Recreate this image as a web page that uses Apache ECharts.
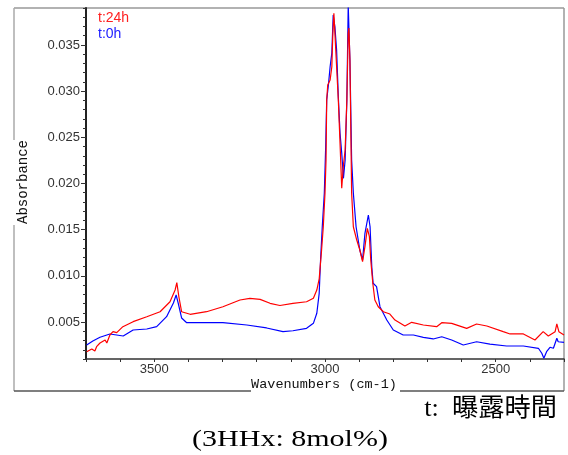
<!DOCTYPE html>
<html>
<head>
<meta charset="utf-8">
<script src="https://cdn.jsdelivr.net/npm/echarts@6/dist/echarts.min.js"></script>
<style>
html,body{margin:0;padding:0;background:#fff;}
#chart{width:568px;height:455px;}
</style>
</head>
<body>
<div id="chart"></div>
<script>
// ---- data ----
const seriesNames = ['t:24h', 't:0h'];

const redWave = [3698,3693,3683,3674,3669,3659,3644,3639,3630,3621,3610,3592,3562,3522,3483,3454,3439,3434,3428,3420,3395,3347,3299,3249,3220,3190,3161,3132,3094,3054,3034,3024,3017,3010,3005,3000,2997,2995,2992,2985,2980,2977,2974,2971,2966,2961,2956,2951,2946,2941,2936,2932,2930,2927,2922,2917,2907,2898,2890,2883,2876,2870,2866,2860,2854,2844,2829,2810,2795,2766,2746,2712,2673,2658,2629,2585,2556,2526,2478,2458,2419,2385,2361,2346,2326,2321,2315,2300];
const redAbs  = [0.00179,0.00179,0.00208,0.00187,0.00233,0.00273,0.00306,0.00273,0.0036,0.00396,0.00385,0.0045,0.00504,0.00558,0.00612,0.0072,0.00847,0.00926,0.00774,0.00612,0.00584,0.00612,0.00666,0.00739,0.00757,0.00746,0.00703,0.00679,0.00703,0.0072,0.00757,0.00847,0.00968,0.0128,0.01532,0.01897,0.02254,0.02904,0.03066,0.0312,0.03264,0.03626,0.03843,0.03626,0.03264,0.02904,0.02438,0.01948,0.022,0.02363,0.02904,0.03629,0.03683,0.03337,0.01897,0.01532,0.01388,0.0128,0.01153,0.01316,0.01515,0.01424,0.01172,0.0092,0.00739,0.00666,0.00612,0.00587,0.00522,0.00457,0.00497,0.00468,0.0045,0.00493,0.00486,0.00432,0.00479,0.00457,0.00396,0.00371,0.00371,0.00306,0.00396,0.00349,0.00396,0.00479,0.00396,0.0036];

const blueWave = [3698,3680,3659,3630,3591,3562,3522,3493,3464,3444,3436,3430,3420,3405,3357,3299,3229,3171,3123,3094,3054,3034,3024,3017,3013,3008,3002,2998,2995,2990,2985,2980,2976,2971,2966,2961,2956,2951,2946,2941,2936,2932,2927,2922,2917,2909,2898,2890,2883,2873,2868,2863,2859,2849,2839,2819,2800,2771,2741,2712,2683,2658,2629,2595,2556,2517,2468,2419,2375,2365,2359,2351,2341,2331,2321,2317,2300];
const blueAbs  = [0.00252,0.00295,0.00335,0.00371,0.00349,0.00414,0.00425,0.0045,0.00558,0.00706,0.00793,0.00706,0.00544,0.00493,0.00493,0.00493,0.00468,0.00436,0.00396,0.00406,0.00432,0.00486,0.00595,0.00811,0.01172,0.01532,0.01897,0.02398,0.02904,0.03066,0.03264,0.03413,0.03824,0.03697,0.03445,0.0294,0.02547,0.0233,0.02056,0.02254,0.02904,0.0393,0.03337,0.02254,0.01897,0.01532,0.0128,0.01172,0.01461,0.01659,0.01532,0.01099,0.0092,0.00883,0.00666,0.00522,0.00414,0.0036,0.0036,0.00335,0.00317,0.00341,0.00306,0.00252,0.00287,0.00262,0.00241,0.00241,0.00216,0.00162,0.00108,0.00179,0.00227,0.00216,0.00324,0.00287,0.00281];

const xLabelValues = [3500, 3000, 2500];
const yLabelValues = [0.005, 0.010, 0.015, 0.020, 0.025, 0.030, 0.035];
const xTitle = 'Wavenumbers (cm-1)';
const yTitle = 'Absorbance';
const noteText = 't:  曝露時間';
const subText = '(3HHx: 8mol%)';

function pairs(xs, ys) { return xs.map((x, i) => [x, ys[i]]); }

const chart = echarts.init(document.getElementById('chart'), null, {renderer: 'canvas'});
const tickFont = {fontFamily: 'Liberation Sans', fontSize: 13, color: '#333'};

chart.setOption({
  animation: false,
  backgroundColor: '#fff',
  grid: {left: 86, top: 8, right: 4, bottom: 96, containLabel: false},
  legend: {
    orient: 'vertical', left: 88, top: 6, itemGap: 2, icon: 'none',
    itemWidth: 0, itemHeight: 0,
    data: [
      {name: seriesNames[0], textStyle: {color: '#ff2020'}},
      {name: seriesNames[1], textStyle: {color: '#2020ff'}}
    ],
    textStyle: {fontFamily: 'Liberation Sans', fontSize: 14, padding: 0}
  },
  xAxis: {
    type: 'value', min: 2300, max: 3700, interval: 100, inverse: true,
    axisLine: {show: true, lineStyle: {color: '#333', width: 1.5}},
    axisTick: {show: true, length: 3, lineStyle: {color: '#333'}},
    axisLabel: Object.assign({margin: 4, formatter: v => xLabelValues.includes(v) ? String(v) : ''}, tickFont),
    splitLine: {show: false}
  },
  yAxis: [{
    type: 'value', min: 0.001, max: 0.039,
    axisLine: {show: true, lineStyle: {color: '#222', width: 2}},
    axisTick: {show: true, length: 5, customValues: yLabelValues, lineStyle: {color: '#333'}},
    axisLabel: Object.assign({margin: 6, customValues: yLabelValues, formatter: v => v.toFixed(3)}, tickFont),
    splitLine: {show: false}
  }, {
    type: 'value', min: 0.001, max: 0.039, interval: 0.001, position: 'left',
    axisLine: {show: false},
    axisTick: {show: true, length: 3, lineStyle: {color: '#333'}},
    axisLabel: {show: false},
    splitLine: {show: false}
  }],
  series: [
    {name: seriesNames[0], type: 'line', data: pairs(redWave, redAbs), showSymbol: false, symbol: 'none',
     lineStyle: {color: '#ff0000', width: 1.2}, itemStyle: {color: '#ff0000'}, clip: true, z: 3},
    {name: seriesNames[1], type: 'line', data: pairs(blueWave, blueAbs), showSymbol: false, symbol: 'none',
     lineStyle: {color: '#0000ff', width: 1.2}, itemStyle: {color: '#0000ff'}, clip: true, z: 2}
  ],
  graphic: [
    {type: 'line', shape: {x1: 14, y1: 8, x2: 564, y2: 8}, style: {stroke: '#999', lineWidth: 1.5}, silent: true},
    {type: 'line', shape: {x1: 564, y1: 8, x2: 564, y2: 391}, style: {stroke: '#999', lineWidth: 1.5}, silent: true},
    {type: 'line', shape: {x1: 14, y1: 8, x2: 14, y2: 140}, style: {stroke: '#aaa', lineWidth: 1.5}, silent: true},
    {type: 'line', shape: {x1: 14, y1: 225, x2: 14, y2: 391}, style: {stroke: '#aaa', lineWidth: 1.5}, silent: true},
    {type: 'line', shape: {x1: 14, y1: 391, x2: 251, y2: 391}, style: {stroke: '#555', lineWidth: 1.5}, silent: true},
    {type: 'line', shape: {x1: 400, y1: 391, x2: 564, y2: 391}, style: {stroke: '#555', lineWidth: 1.5}, silent: true},
    {type: 'text', x: 23, y: 182, rotation: Math.PI / 2,
     style: {text: yTitle, font: '14px "Liberation Mono"', fill: '#111', align: 'center', verticalAlign: 'middle'}},
    {type: 'text', x: 324, y: 384,
     style: {text: xTitle, font: '13.5px "Liberation Mono"', fill: '#111', align: 'center', verticalAlign: 'middle'}},
    {type: 'text', x: 557, y: 409, scaleX: 1.05,
     style: {text: noteText, font: '25px "Liberation Serif", "Noto Sans CJK JP"', fill: '#000', align: 'right', verticalAlign: 'middle'}},
    {type: 'text', x: 290, y: 440, scaleX: 1.25,
     style: {text: subText, font: '24px "Liberation Serif"', fill: '#000', align: 'center', verticalAlign: 'middle'}}
  ]
});
</script>
</body>
</html>
